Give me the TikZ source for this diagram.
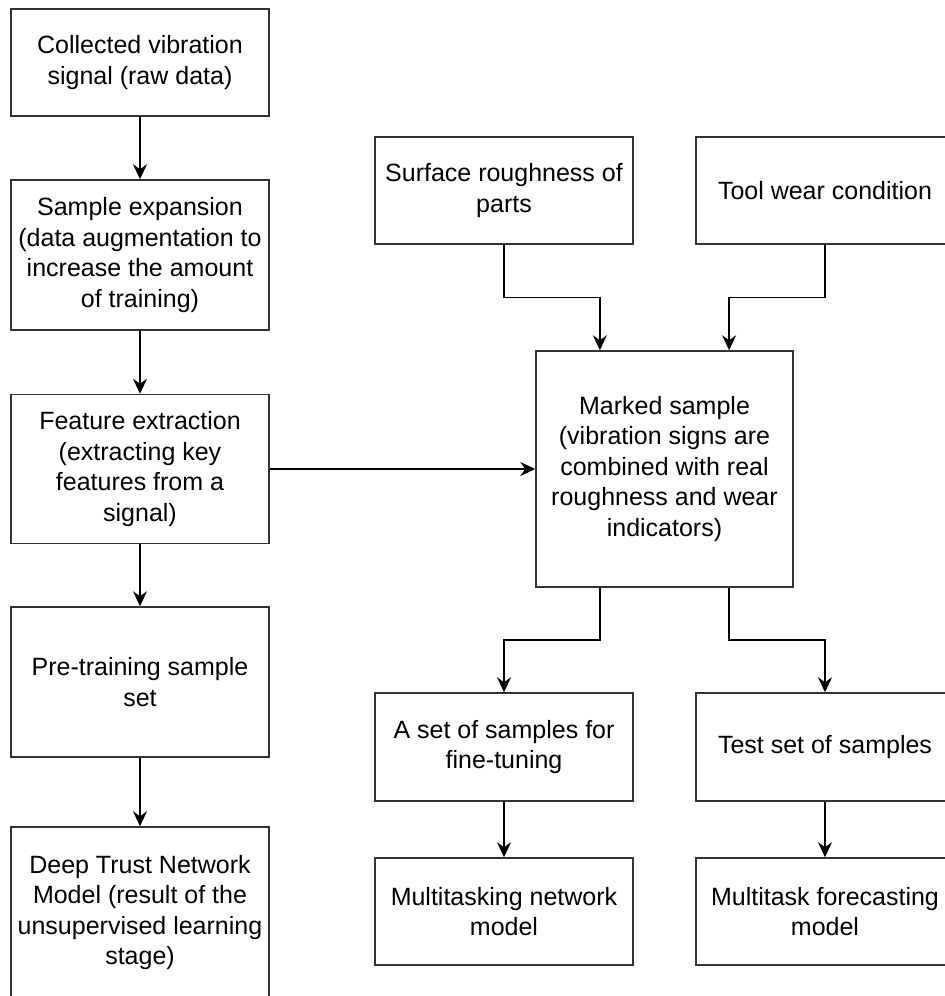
\documentclass[tikz,border=0pt]{standalone}
\usepackage{fontspec}
\setmainfont{Liberation Sans}
\usetikzlibrary{calc, arrows.meta}

\tikzset{
  box/.style = {draw=black!80, line width=1.5pt, align=center, inner sep=0pt,
    minimum width=258pt, font=\fontsize{25}{30.5}\selectfont},
  arr/.style = {line width=1.5pt, -{Stealth[length=15pt, width=14pt, inset=5pt]}}
}

\begin{document}
\begin{tikzpicture}[x=1pt, y=-1pt]
  \clip (0,0) rectangle (945,996);

  % left column
  \node[box, minimum height=107pt] (raw) at (140,62.5) {Collected vibration\\signal (raw data)};
  \node[box, minimum height=150pt] (expand) at (140,255) {Sample expansion\\(data augmentation to\\increase the amount\\of training)};
  \node[box, minimum height=149pt] (feat) at (140,469) {Feature extraction\\(extracting key\\features from a\\signal)};
  \node[box, minimum height=150pt] (pre) at (140,682) {Pre-training sample\\set};
  \node[box, minimum height=171pt] (dbn) at (140,912.5) {Deep Trust Network\\Model (result of the\\unsupervised learning\\stage)};

  % right part
  \node[box, minimum height=107pt] (rough) at (504,190.5) {Surface roughness of\\parts};
  \node[box, minimum height=107pt] (wear) at (825,190.5) {Tool wear condition};
  \node[box, minimum width=257pt, minimum height=236pt] (mark) at (664.5,469) {Marked sample\\(vibration signs are\\combined with real\\roughness and wear\\indicators)};
  \node[box, minimum height=108pt] (tune) at (504,747) {A set of samples for\\fine-tuning};
  \node[box, minimum height=108pt] (test) at (825,747) {Test set of samples};
  \node[box, minimum height=107pt] (mtnet) at (504,911.5) {Multitasking network\\model};
  \node[box, minimum height=107pt] (mtfc) at (825,911.5) {Multitask forecasting\\model};

  \coordinate (mark-n1) at ($(mark.north west)!0.25!(mark.north east)$);
  \coordinate (mark-n3) at ($(mark.north west)!0.75!(mark.north east)$);
  \coordinate (mark-s1) at ($(mark.south west)!0.25!(mark.south east)$);
  \coordinate (mark-s3) at ($(mark.south west)!0.75!(mark.south east)$);

  \draw[arr] (raw) -- (expand);
  \draw[arr] (expand) -- (feat);
  \draw[arr] (feat) -- (pre);
  \draw[arr] (pre) -- (dbn);
  \draw[arr] (feat) -- (mark);

  \draw[arr] (rough.south) |- ($(rough.south)!0.5!(mark-n1)$) -| (mark-n1);
  \draw[arr] (wear.south) |- ($(wear.south)!0.5!(mark-n3)$) -| (mark-n3);
  \draw[arr] (mark-s1) |- ($(mark-s1)!0.5!(tune.north)$) -| (tune.north);
  \draw[arr] (mark-s3) |- ($(mark-s3)!0.5!(test.north)$) -| (test.north);
  \draw[arr] (tune) -- (mtnet);
  \draw[arr] (test) -- (mtfc);
\end{tikzpicture}
\end{document}
